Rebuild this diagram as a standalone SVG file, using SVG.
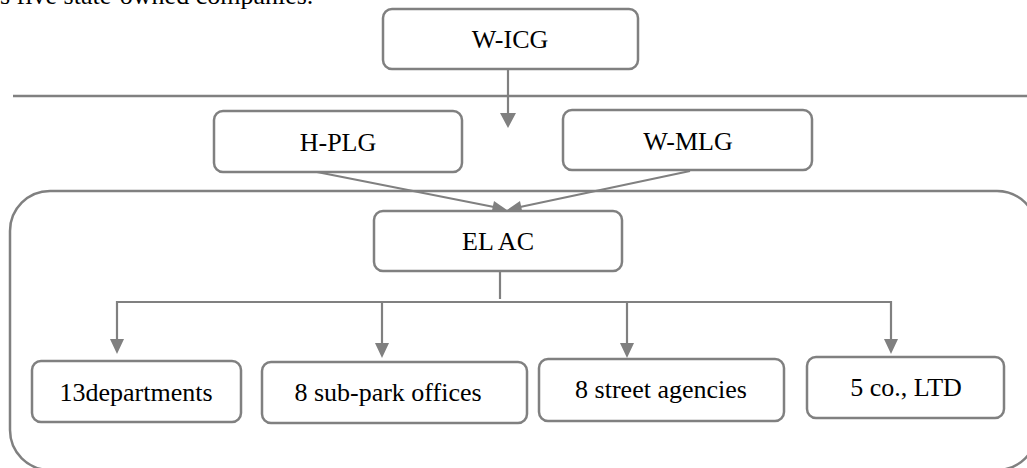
<svg xmlns="http://www.w3.org/2000/svg" width="1027" height="468" viewBox="0 0 1027 468">
<defs>
<style>
.box{fill:#fff;stroke:#808080;stroke-width:2.5}
.ln{fill:none;stroke:#808080;stroke-width:2.2}
.t{font-family:"Liberation Serif","DejaVu Serif",serif;font-size:26px;fill:#000;text-anchor:middle}
.top{font-family:"Liberation Serif","DejaVu Serif",serif;font-size:26px;fill:#000}
</style>
</defs>
<rect width="1027" height="468" fill="#fff"/>
<text class="top" x="0" y="4">s five state-owned companies.</text>
<g id="container"><rect x="10" y="191" width="1027" height="279" rx="40" ry="40" fill="none" stroke="#808080" stroke-width="2.5"/></g>
<g id="divider"><line x1="13" y1="96" x2="1027" y2="96" stroke="#808080" stroke-width="2.5"/></g>
<g id="connectors">
<line class="ln" x1="508" y1="69" x2="508" y2="113"/>
<path d="M500,113 L516,113 L508,128 Z" fill="#808080"/>
<line class="ln" x1="317" y1="172" x2="494" y2="207"/>
<path d="M507,210 L491,215 L494,201 Z" fill="#808080"/>
<line class="ln" x1="690" y1="171" x2="520" y2="207"/>
<path d="M507,210 L520,201 L523,215 Z" fill="#808080"/>
<line class="ln" x1="500" y1="271" x2="500" y2="299"/>
<polyline class="ln" points="117,340 117,302 891,302 891,340"/>
<line class="ln" x1="382" y1="302" x2="382" y2="344"/>
<line class="ln" x1="627" y1="302" x2="627" y2="344"/>
<path d="M110,339 L124,339 L117,354 Z" fill="#808080"/>
<path d="M375,343 L389,343 L382,358 Z" fill="#808080"/>
<path d="M620,343 L634,343 L627,358 Z" fill="#808080"/>
<path d="M884,339 L898,339 L891,354 Z" fill="#808080"/>
</g>
<g id="n-wicg"><rect class="box" x="383" y="9" width="255" height="60" rx="9"/><text class="t" x="510" y="48">W-ICG</text></g>
<g id="n-hplg"><rect class="box" x="214" y="111" width="248" height="61" rx="9"/><text class="t" x="338" y="151">H-PLG</text></g>
<g id="n-wmlg"><rect class="box" x="563" y="110" width="249" height="60" rx="9"/><text class="t" x="688" y="150">W-MLG</text></g>
<g id="n-elac"><rect class="box" x="374" y="211" width="248" height="60" rx="9"/><text class="t" x="498" y="250">EL AC</text></g>
<g id="n-dept"><rect class="box" x="32" y="361" width="209" height="61" rx="9"/><text class="t" x="136" y="401">13departments</text></g>
<g id="n-subpark"><rect class="box" x="262" y="362" width="265" height="61" rx="9"/><text class="t" x="388" y="401">8 sub-park offices</text></g>
<g id="n-street"><rect class="box" x="539" y="359" width="245" height="62" rx="9"/><text class="t" x="661" y="398">8 street agencies</text></g>
<g id="n-co"><rect class="box" x="807" y="357" width="197" height="61" rx="9"/><text class="t" x="906" y="396">5 co., LTD</text></g>
</svg>
